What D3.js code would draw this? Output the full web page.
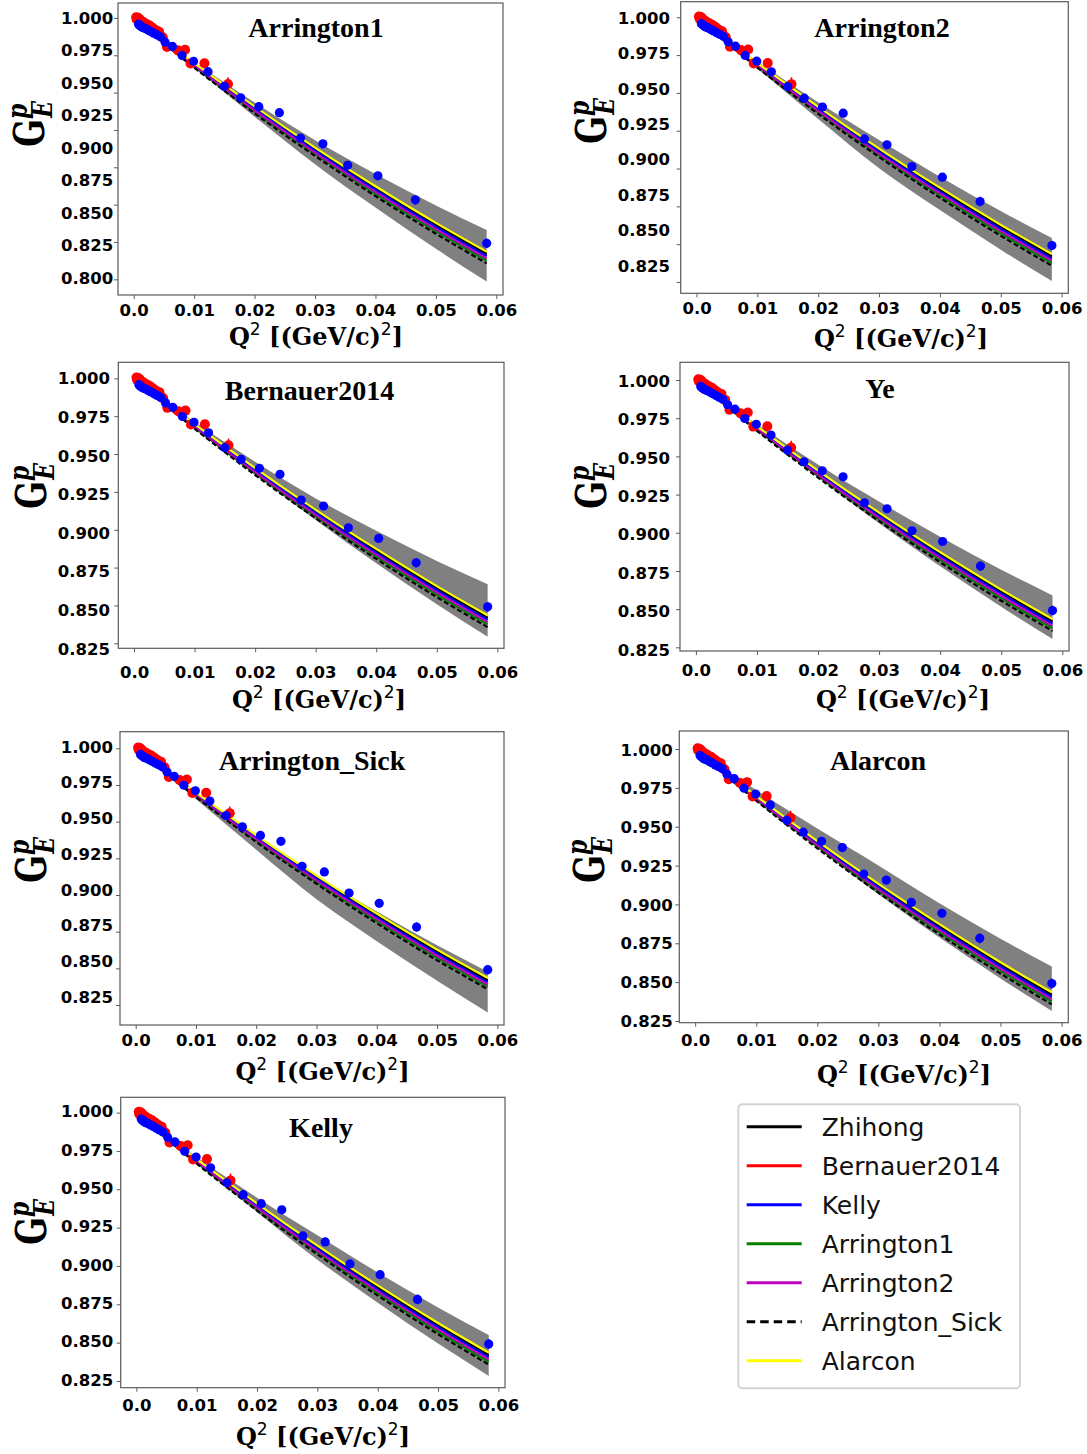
<!DOCTYPE html>
<html>
<head>
<meta charset="utf-8">
<script src="https://cdn.jsdelivr.net/npm/d3@7"></script>
<style>
  html, body { margin: 0; padding: 0; background: #fff; }
  svg { display: block; }
</style>
</head>
<body>
<svg id="chart" width="1087" height="1454"></svg>
<script>
// ---------------- DATA ----------------
const panelNames = ["Arrington1", "Arrington2", "Bernauer2014", "Ye", "Arrington_Sick", "Alarcon", "Kelly"];
const modelNames = ["Zhihong", "Bernauer2014", "Kelly", "Arrington1", "Arrington2", "Arrington_Sick", "Alarcon"];

const xTicks = [0.0, 0.01, 0.02, 0.03, 0.04, 0.05, 0.06];
const xTickLabels = ["0.0", "0.01", "0.02", "0.03", "0.04", "0.05", "0.06"];
const yTicks = [1.000, 0.975, 0.950, 0.925, 0.900, 0.875, 0.850, 0.825];
const yTickLabelsLong = ["1.000", "0.975", "0.950", "0.925", "0.900", "0.875", "0.850", "0.825", "0.800"];
const yTickLabelsShort = ["1.000", "0.975", "0.950", "0.925", "0.900", "0.875", "0.850", "0.825"];

// model curves sampled on a Q^2 grid
const q2Grid = [0.0003, 0.005, 0.01, 0.015, 0.02, 0.03, 0.04, 0.05, 0.0584];
const curveZhihong      = [0.9991, 0.9844, 0.9691, 0.9543, 0.9398, 0.9121, 0.8860, 0.8614, 0.8420];
const curveBernauer2014 = [0.9991, 0.9842, 0.9688, 0.9539, 0.9394, 0.9116, 0.8854, 0.8607, 0.8413];
const curveKelly        = [0.9991, 0.9841, 0.9686, 0.9536, 0.9390, 0.9111, 0.8848, 0.8601, 0.8406];
const curveArrington1   = [0.9990, 0.9834, 0.9674, 0.9521, 0.9372, 0.9089, 0.8822, 0.8572, 0.8375];
const curveArrington2   = [0.9990, 0.9837, 0.9680, 0.9528, 0.9381, 0.9099, 0.8835, 0.8586, 0.8390];
const curveArrSick      = [0.9990, 0.9830, 0.9667, 0.9512, 0.9361, 0.9076, 0.8807, 0.8555, 0.8357];
const curveAlarcon      = [0.9991, 0.9847, 0.9697, 0.9551, 0.9407, 0.9132, 0.8873, 0.8628, 0.8435];

// uncertainty bands (one per panel), same Q^2 grid
const bandUpArrington1   = [0.9991, 0.9850, 0.9705, 0.9568, 0.9433, 0.9181, 0.8955, 0.8744, 0.8580];
const bandLoArrington1   = [0.9991, 0.9834, 0.9667, 0.9502, 0.9339, 0.9021, 0.8730, 0.8454, 0.8235];
const bandUpArrington2   = [0.9991, 0.9851, 0.9707, 0.9571, 0.9438, 0.9189, 0.8946, 0.8719, 0.8540];
const bandLoArrington2   = [0.9991, 0.9832, 0.9662, 0.9494, 0.9327, 0.9001, 0.8725, 0.8463, 0.8256];
const bandUpBernauer2014 = [0.9991, 0.9852, 0.9712, 0.9578, 0.9449, 0.9207, 0.8993, 0.8794, 0.8640];
const bandLoBernauer2014 = [0.9991, 0.9838, 0.9677, 0.9520, 0.9364, 0.9064, 0.8778, 0.8508, 0.8293];
const bandUpYe           = [0.9991, 0.9852, 0.9711, 0.9577, 0.9447, 0.9204, 0.8974, 0.8758, 0.8590];
const bandLoYe           = [0.9991, 0.9838, 0.9677, 0.9519, 0.9363, 0.9062, 0.8781, 0.8516, 0.8305];
const bandUpArrSick      = [0.9991, 0.9845, 0.9693, 0.9547, 0.9404, 0.9131, 0.8887, 0.8657, 0.8477];
const bandLoArrSick      = [0.9991, 0.9829, 0.9655, 0.9481, 0.9309, 0.8971, 0.8685, 0.8415, 0.8200];
const bandUpAlarcon      = [0.9991, 0.9864, 0.9736, 0.9611, 0.9488, 0.9251, 0.9008, 0.8779, 0.8600];
const bandLoAlarcon      = [0.9991, 0.9839, 0.9678, 0.9520, 0.9365, 0.9066, 0.8788, 0.8524, 0.8314];
const bandUpKelly        = [0.9991, 0.9852, 0.9710, 0.9576, 0.9445, 0.9201, 0.8958, 0.8729, 0.8550];
const bandLoKelly        = [0.9991, 0.9836, 0.9672, 0.9510, 0.9351, 0.9041, 0.8760, 0.8494, 0.8283];

// measured points (red set and blue set)
const redQ2  = [0.0004, 0.0005, 0.0007, 0.0009, 0.0012, 0.0016, 0.0021, 0.0026, 0.0031, 0.0036, 0.0042, 0.0048, 0.0055, 0.0073, 0.0085, 0.0094, 0.0117, 0.0156];
const redGE  = [1.0005, 0.9990, 1.0002, 0.9995, 0.9982, 0.9972, 0.9960, 0.9950, 0.9935, 0.9920, 0.9908, 0.9870, 0.9805, 0.9783, 0.9787, 0.9695, 0.9697, 0.9558];
const redErr = [0.0006, 0.0006, 0.0006, 0.0006, 0.0006, 0.0006, 0.0007, 0.0007, 0.0007, 0.0008, 0.0008, 0.0009, 0.0010, 0.0012, 0.0013, 0.0014, 0.0018, 0.0045];

const blueQ2  = [0.0008, 0.0010, 0.0012, 0.0014, 0.0017, 0.0020, 0.0024, 0.0028, 0.0033, 0.0038, 0.0044, 0.0052, 0.0064, 0.0080, 0.0099, 0.0123, 0.0150, 0.0177, 0.0207, 0.0241, 0.0276, 0.0313, 0.0354, 0.0404, 0.0466, 0.0584];
const blueGE  = [0.9958, 0.9950, 0.9945, 0.9938, 0.9933, 0.9928, 0.9918, 0.9910, 0.9898, 0.9887, 0.9874, 0.9838, 0.9809, 0.9748, 0.9710, 0.9640, 0.9542, 0.9465, 0.9406, 0.9366, 0.9196, 0.9157, 0.9013, 0.8943, 0.8782, 0.8491];
const blueErr = [0.0004, 0.0004, 0.0004, 0.0004, 0.0004, 0.0004, 0.0005, 0.0005, 0.0005, 0.0005, 0.0006, 0.0006, 0.0007, 0.0008, 0.0009, 0.0010, 0.0011, 0.0012, 0.0013, 0.0014, 0.0015, 0.0016, 0.0018, 0.0020, 0.0032, 0.0032];

// ---------------- STYLE / LAYOUT ----------------
const modelCurves = {
  "Zhihong": curveZhihong, "Bernauer2014": curveBernauer2014, "Kelly": curveKelly,
  "Arrington1": curveArrington1, "Arrington2": curveArrington2,
  "Arrington_Sick": curveArrSick, "Alarcon": curveAlarcon
};
const modelStyle = {
  "Zhihong":        {color: "#000000", dash: null},
  "Bernauer2014":   {color: "#ff0000", dash: null},
  "Kelly":          {color: "#0000ff", dash: null},
  "Arrington1":     {color: "#008000", dash: null},
  "Arrington2":     {color: "#bf00bf", dash: null},
  "Arrington_Sick": {color: "#000000", dash: "5,2.6"},
  "Alarcon":        {color: "#ffff00", dash: null}
};
// drawing order (bottom to top)
const drawOrder = ["Bernauer2014", "Zhihong", "Kelly", "Arrington1", "Arrington2", "Arrington_Sick", "Alarcon"];
const bands = {
  "Arrington1": [bandLoArrington1, bandUpArrington1],
  "Arrington2": [bandLoArrington2, bandUpArrington2],
  "Bernauer2014": [bandLoBernauer2014, bandUpBernauer2014],
  "Ye": [bandLoYe, bandUpYe],
  "Arrington_Sick": [bandLoArrSick, bandUpArrSick],
  "Alarcon": [bandLoAlarcon, bandUpAlarcon],
  "Kelly": [bandLoKelly, bandUpKelly]
};

const layout = [
  {box: [118, 3, 503, 295],        ydom: [0.8145, 1.0100], lab: [18, 278],     labels: yTickLabelsLong,  labGap: 4.7,  xPad: 5.3,  title: [316, 37],   xlab: [316, 345],  ylab: [44, 124]},
  {box: [680.7, 1.7, 1068.3, 293.3], ydom: [0.8175, 1.0103], lab: [18, 266],   labels: yTickLabelsShort, labGap: 10.7, xPad: 5.3,  title: [882, 37],   xlab: [901, 347],  ylab: [606, 121]},
  {box: [118.3, 362.3, 504, 648.3], ydom: [0.8217, 1.0106], lab: [378.5, 649], labels: yTickLabelsShort, labGap: 8.3,  xPad: 13.7, title: [309.5, 400], xlab: [319, 708], ylab: [46, 486]},
  {box: [680, 362.3, 1069, 651],   ydom: [0.8226, 1.0116], lab: [381, 650],    labels: yTickLabelsShort, labGap: 10,   xPad: 9.3,  title: [880, 398],  xlab: [903, 708],  ylab: [606, 486]},
  {box: [120, 731.7, 504, 1025],   ydom: [0.8114, 1.0113], lab: [747, 997],    labels: yTickLabelsShort, labGap: 7,    xPad: 5.3,  title: [312, 770],  xlab: [322.5, 1080], ylab: [46, 860]},
  {box: [679.3, 731, 1068.3, 1022.7], ydom: [0.8239, 1.0116], lab: [750, 1021], labels: yTickLabelsShort, labGap: 6.6, xPad: 7.6, title: [878, 770], xlab: [904, 1083], ylab: [604, 860]},
  {box: [120.7, 1097.3, 505, 1387.7], ydom: [0.8206, 1.0100], lab: [1111.7, 1380], labels: yTickLabelsShort, labGap: 7.4, xPad: 7.6, title: [321, 1137], xlab: [323, 1445], ylab: [46, 1222]}
];
const xDomain = [-0.0026, 0.0611];

const svg = d3.select("#chart");
svg.append("rect").attr("width", 1087).attr("height", 1454).attr("fill", "#fff");
const defs = svg.append("defs");

const tickFont = "'DejaVu Sans', sans-serif";
const serifTitle = "'Liberation Serif', 'Times New Roman', serif";
const serifMath = "'DejaVu Serif', serif";
const spineColor = "#5a5a5a";

panelNames.forEach((name, i) => {
  const L = layout[i];
  const [x0, y0, x1, y1] = L.box;
  const x = d3.scaleLinear().domain(xDomain).range([x0, x1]);
  const y = d3.scaleLinear().domain(L.ydom).range([y1, y0]);
  const labVals = L.labels.map(Number);
  const yLab = d3.scaleLinear()
    .domain([labVals[0], labVals[labVals.length - 1]])
    .range([L.lab[0], L.lab[1]]);

  const g = svg.append("g").attr("class", "panel");
  const clipId = "clip" + i;
  defs.append("clipPath").attr("id", clipId)
    .append("rect").attr("x", x0).attr("y", y0).attr("width", x1 - x0).attr("height", y1 - y0);
  const plot = g.append("g").attr("clip-path", `url(#${clipId})`);

  // band
  const [lo, up] = bands[name];
  const area = d3.area()
    .x((d, k) => x(q2Grid[k]))
    .y0((d, k) => y(lo[k]))
    .y1((d, k) => y(up[k]))
    .curve(d3.curveMonotoneX);
  plot.append("path").datum(q2Grid).attr("d", area).attr("fill", "#808080");

  // model lines
  drawOrder.forEach(m => {
    const vals = modelCurves[m];
    const line = d3.line()
      .x((d, k) => x(q2Grid[k]))
      .y((d, k) => y(vals[k]))
      .curve(d3.curveMonotoneX);
    const p = plot.append("path").datum(q2Grid).attr("d", line)
      .attr("fill", "none").attr("stroke", modelStyle[m].color)
      .attr("stroke-width", 2.1);
    if (modelStyle[m].dash) p.attr("stroke-dasharray", modelStyle[m].dash);
  });

  // data points: red then blue
  const drawPts = (qs, ges, errs, color, r) => {
    const pts = qs.map((q, k) => ({q, v: ges[k], e: errs[k]}));
    plot.append("g").selectAll("line").data(pts).join("line")
      .attr("x1", d => x(d.q)).attr("x2", d => x(d.q))
      .attr("y1", d => y(d.v - d.e)).attr("y2", d => y(d.v + d.e))
      .attr("stroke", color).attr("stroke-width", 1.6);
    plot.append("g").selectAll("circle").data(pts).join("circle")
      .attr("cx", d => x(d.q)).attr("cy", d => y(d.v)).attr("r", r)
      .attr("fill", color);
  };
  drawPts(redQ2, redGE, redErr, "#ff0000", 5);
  drawPts(blueQ2, blueGE, blueErr, "#0000ff", 4.6);

  // y tick marks (true scale)
  const yTickAxis = g.append("g").attr("transform", `translate(${x0},0)`)
    .call(d3.axisLeft(y).tickValues(yTicks).tickSize(4).tickFormat(""));
  yTickAxis.select(".domain").remove();
  yTickAxis.selectAll("line").attr("stroke", spineColor).attr("stroke-width", 1);

  // y tick labels (as printed)
  const yLabAxis = g.append("g").attr("transform", `translate(${x0},0)`)
    .call(d3.axisLeft(yLab).tickValues(labVals).tickSize(0).tickPadding(L.labGap)
      .tickFormat((d, k) => L.labels[k]));
  yLabAxis.select(".domain").remove();
  yLabAxis.selectAll("text")
    .attr("font-family", tickFont).attr("font-size", 16.5).attr("font-weight", "bold")
    .attr("fill", "#000");

  // x axis
  const xAxis = g.append("g").attr("transform", `translate(0,${y1})`)
    .call(d3.axisBottom(x).tickValues(xTicks).tickSize(4).tickPadding(L.xPad)
      .tickFormat((d, k) => xTickLabels[k]));
  xAxis.select(".domain").remove();
  xAxis.selectAll("line").attr("stroke", spineColor).attr("stroke-width", 1);
  xAxis.selectAll("text")
    .attr("font-family", tickFont).attr("font-size", 16.5).attr("font-weight", "bold")
    .attr("fill", "#000");

  // frame
  g.append("rect").attr("x", x0).attr("y", y0).attr("width", x1 - x0).attr("height", y1 - y0)
    .attr("fill", "none").attr("stroke", spineColor).attr("stroke-width", 1.2);

  // title
  g.append("text").attr("x", L.title[0]).attr("y", L.title[1])
    .attr("text-anchor", "middle")
    .attr("font-family", serifTitle).attr("font-weight", "bold").attr("font-size", 28)
    .attr("fill", "#000").text(name);

  // x label: Q^2 [(GeV/c)^2]
  const xl = g.append("text").attr("x", L.xlab[0]).attr("y", L.xlab[1])
    .attr("text-anchor", "middle").attr("font-family", serifMath)
    .attr("font-weight", "bold").attr("font-size", 24).attr("fill", "#000");
  xl.append("tspan").text("Q");
  xl.append("tspan").attr("dy", -10).attr("font-size", 17).attr("font-weight", "normal")
    .attr("font-family", tickFont).text("2");
  xl.append("tspan").attr("dy", 10).text("\u00a0[(GeV/c)");
  xl.append("tspan").attr("dy", -10).attr("font-size", 17).attr("font-weight", "normal")
    .attr("font-family", tickFont).text("2");
  xl.append("tspan").attr("dy", 10).text("]");

  // y label: G_E^p (rotated)
  const yl = g.append("text")
    .attr("transform", `translate(${L.ylab[0]},${L.ylab[1]}) rotate(-90) scale(0.78,1)`)
    .attr("text-anchor", "middle").attr("font-family", serifMath)
    .attr("font-weight", "bold").attr("fill", "#000");
  yl.append("tspan").attr("font-size", 42).text("G");
  yl.append("tspan").attr("font-size", 28).attr("font-style", "italic").attr("dy", -17).text("p");
  yl.append("tspan").attr("font-size", 28).attr("font-style", "italic").attr("dx", -18).attr("dy", 25).text("E");
});

// ---------------- LEGEND ----------------
const leg = svg.append("g");
leg.append("rect").attr("x", 738.3).attr("y", 1104.3).attr("width", 281.7).attr("height", 284)
  .attr("rx", 4).attr("fill", "#fff").attr("stroke", "#d4d4d4").attr("stroke-width", 2);
const legY = d3.scalePoint().domain(modelNames).range([1126.7, 1360.7]);
modelNames.forEach(m => {
  const yy = legY(m);
  const l = leg.append("line").attr("x1", 746.7).attr("x2", 801.7).attr("y1", yy).attr("y2", yy)
    .attr("stroke", modelStyle[m].color).attr("stroke-width", 3);
  if (modelStyle[m].dash) l.attr("stroke-dasharray", "8.5,5");
  leg.append("text").attr("x", 821.7).attr("y", yy).attr("dy", "0.36em")
    .attr("font-family", tickFont).attr("font-size", 25).attr("fill", "#111").text(m);
});
</script>
</body>
</html>
